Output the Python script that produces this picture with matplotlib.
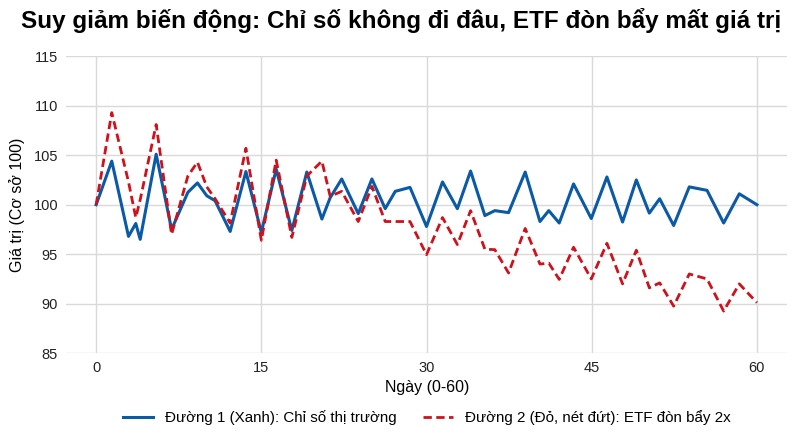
import matplotlib
matplotlib.use("Agg")
import matplotlib.pyplot as plt

plt.rcParams["font.family"] = ["Liberation Sans", "DejaVu Sans"]

# Vị trí các điểm (ngày)
ngay = [0, 1.42, 2.94, 3.6, 4.0, 5.45, 6.85, 8.33, 9.2, 10.05, 10.8, 12.17,
        13.6, 15.0, 16.35, 17.77, 19.13, 20.5, 21.25, 22.3, 23.8, 25.04, 26.25,
        27.16, 28.5, 30.0, 31.45, 32.8, 34.0, 35.3, 36.2, 37.45, 38.96, 40.3,
        41.1, 42.05, 43.35, 44.96, 46.38, 47.8, 49.05, 50.23, 51.17, 52.44,
        53.86, 55.47, 56.98, 58.4, 60]

# Đường 1: chỉ số thị trường
chi_so = [100, 104.4, 96.8, 98.1, 96.5, 105.1, 97.5, 101.25, 102.2, 100.9, 100.4,
          97.3, 103.35, 97.2, 103.6, 97.4, 103.3, 98.55, 100.7, 102.6, 99.1,
          102.6, 99.6, 101.35, 101.75, 97.8, 102.3, 99.6, 103.4, 98.9, 99.4,
          99.2, 103.3, 98.3, 99.4, 98.15, 102.1, 98.6, 102.8, 98.25, 102.5,
          99.15, 100.6, 97.9, 101.8, 101.45, 98.15, 101.1, 100.0]

# Đường 2: ETF đòn bẩy 2x
etf = [100, 109.3, 102.3, 98.7, 100.5, 108.1, 97.0, 102.9, 104.3, 101.8, 100.6,
       98.15, 105.7, 96.4, 104.5, 96.7, 102.9, 104.4, 100.85, 101.35, 98.3,
       101.85, 98.3, 98.3, 98.3, 94.95, 98.7, 95.97, 99.4, 95.5, 95.46, 93.1,
       97.6, 94.0, 94.1, 92.45, 95.7, 92.5, 96.1, 92.0, 95.4, 91.6, 92.1,
       89.75, 93.0, 92.5, 89.25, 92.0, 90.1]

x_ticks = [0, 15, 30, 45, 60]
y_ticks = [85, 90, 95, 100, 105, 110, 115]

fig, ax = plt.subplots(figsize=(8, 4.36), dpi=100)
fig.subplots_adjust(left=0.083, right=0.984, top=0.871, bottom=0.19)

ax.plot(ngay, chi_so, color="#0b5aa8", lw=2.2,
        label="Đường 1 (Xanh): Chỉ số thị trường")
ax.plot(ngay, etf, color="#d0101a", lw=2.0, ls=(0, (3, 1.6)),
        label="Đường 2 (Đỏ, nét đứt): ETF đòn bẩy 2x")

ax.set_xlim(-2.7, 62.75)
ax.set_ylim(85, 115)
ax.set_xticks(x_ticks)
ax.set_yticks(y_ticks)
ax.grid(True, color="#d9d9d9", lw=1)
ax.set_axisbelow(True)
for s in ax.spines.values():
    s.set_visible(False)
ax.tick_params(length=0, labelsize=10.5, colors="#222222", pad=6)

fig.suptitle("Suy giảm biến động: Chỉ số không đi đâu, ETF đòn bẩy mất giá trị",
             fontsize=17.5, fontweight="bold", x=0.502, y=0.982, va="top")
ax.set_xlabel("Ngày (0-60)", fontsize=11.5, labelpad=3)
ax.set_ylabel("Giá trị (Cơ sở 100)", fontsize=11.5, labelpad=6)

ax.legend(loc="upper center", bbox_to_anchor=(0.5, -0.145), ncol=2,
          frameon=False, fontsize=10.9, handlelength=2.0, columnspacing=1.7)

fig.savefig("out.png", dpi=100)
